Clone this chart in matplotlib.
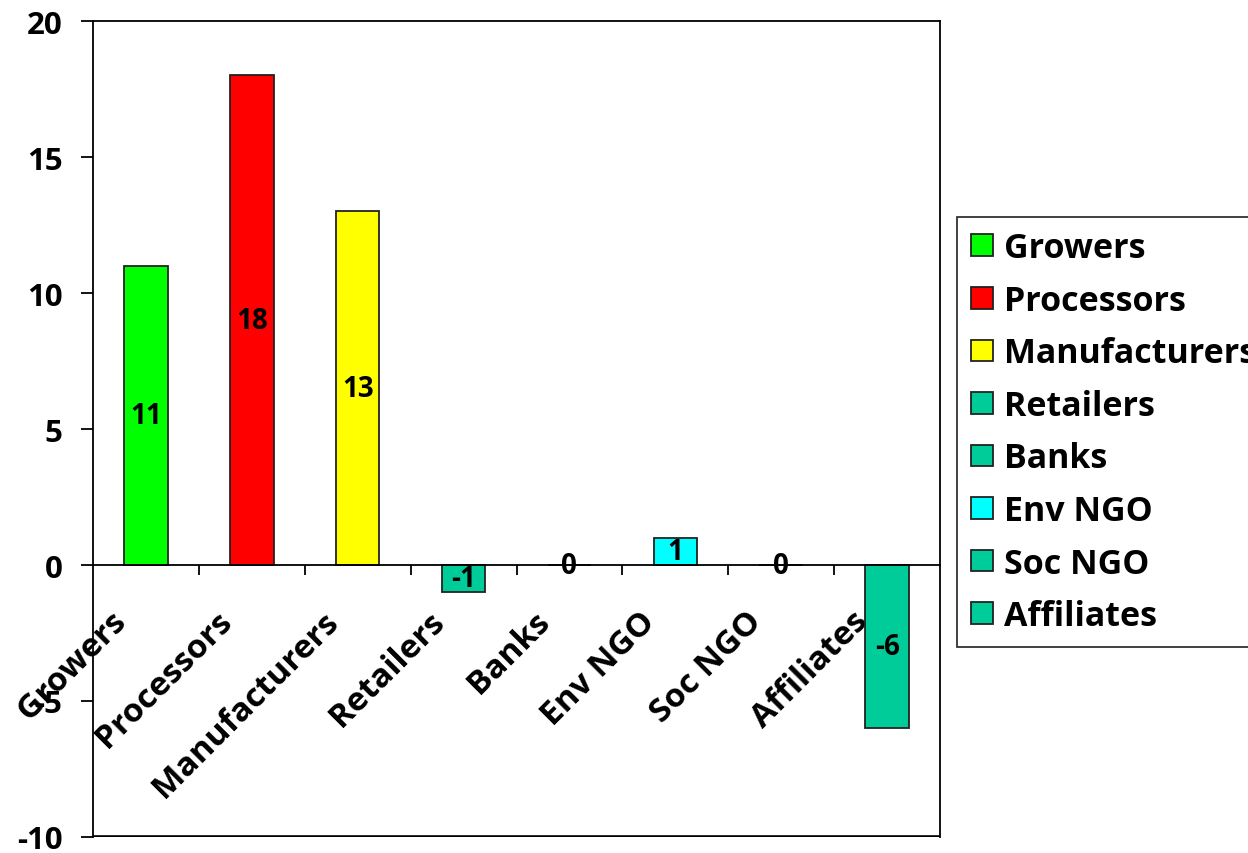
import matplotlib
matplotlib.use("Agg")
import matplotlib.pyplot as plt
from matplotlib.patches import Patch
from matplotlib.transforms import ScaledTranslation
import numpy as np

categories = ["Growers", "Processors", "Manufacturers", "Retailers", "Banks", "Env NGO", "Soc NGO", "Affiliates"]
values = [11, 18, 13, -1, 0, 1, 0, -6]
colors = ["#00FF00", "#FF0000", "#FFFF00", "#00CC99", "#00CC99", "#00FFFF", "#00CC99", "#00CC99"]
yticks = [-10, -5, 0, 5, 10, 15, 20]

plt.rcParams['font.family'] = ['Open Sans', 'DejaVu Sans']
plt.rcParams['font.weight'] = 'bold'
FS_Y = 22.5
FS_X = 24
FS_LEG = 24.5

fig = plt.figure(figsize=(12.48, 8.54), dpi=100)
ax = fig.add_axes([93/1248, 1-838/854, (940-93)/1248, (838-22)/854])

x = np.arange(len(categories))
bars = ax.bar(x, values, width=0.41, color=colors, edgecolor="#222222", linewidth=1.3, zorder=2)

for xi, v in zip(x, values):
    ax.text(xi, v/2, str(v), ha='center', va='center', fontsize=20, fontweight='bold', zorder=4)

ax.set_xlim(-0.5, len(categories)-0.5)
ax.set_ylim(-10, 20)
ax.set_yticks(yticks)
ax.set_yticklabels([str(t) for t in yticks], fontsize=FS_Y, fontweight='bold')
ax.tick_params(axis='y', direction='out', length=9, width=1.3, pad=13)

ax.spines['bottom'].set_position(('data', 0))
ax.spines['bottom'].set_linewidth(1.3)
for s in ['left', 'top', 'right']:
    ax.spines[s].set_linewidth(1.3)
ax.axhline(-10, color='black', linewidth=2.6, clip_on=True, zorder=5)

ax.set_xticks(x)
ax.set_xticklabels(categories, fontsize=FS_X, fontweight='bold', rotation=45,
                   ha='right', va='top', rotation_mode='anchor')
ax.set_xticks(np.arange(0.5, len(categories)-0.5, 1), minor=True)
ax.tick_params(axis='x', which='major', length=0, pad=14)
ax.tick_params(axis='x', which='minor', direction='out', length=7, width=1.3)
off = ScaledTranslation(-36/100, -20/100, fig.dpi_scale_trans)
for lab in ax.get_xticklabels():
    lab.set_transform(lab.get_transform() + off)
    lab.set_zorder(6)

handles = [Patch(facecolor=c, edgecolor="#222222", linewidth=1.3) for c in colors]
leg = fig.legend(handles, categories, loc='upper left', bbox_to_anchor=(957/1248, 1-218/854),
                 borderaxespad=0, frameon=True, fancybox=False,
                 prop={'weight': 'bold', 'size': FS_LEG},
                 handlelength=0.65, handleheight=0.6, handletextpad=0.32,
                 labelspacing=0.545, borderpad=0.42)
leg.get_frame().set_edgecolor('black')
leg.get_frame().set_linewidth(1.3)

fig.savefig("out.png", dpi=100)
